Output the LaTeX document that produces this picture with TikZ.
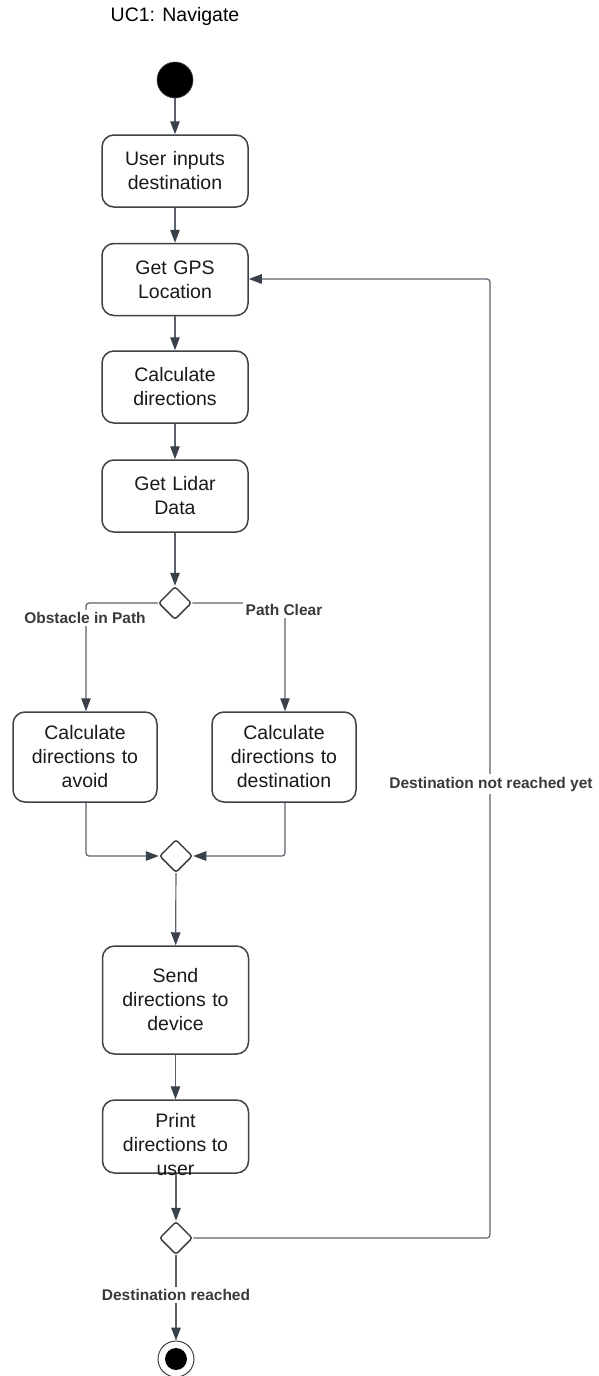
\documentclass[tikz,border=0pt]{standalone}
\usepackage{fontspec}
\setmainfont{Liberation Sans}
\usetikzlibrary{arrows.meta,shapes.geometric}
\definecolor{edgegray}{HTML}{5B616B}
\definecolor{tipgray}{HTML}{3B414B}
\definecolor{boxgray}{HTML}{3E4247}
\definecolor{labelgray}{HTML}{3A3A3A}
\tikzset{
  action/.style={draw=boxgray, line width=1.5pt, rounded corners=12pt, fill=white,
    minimum width=146pt, minimum height=72pt, text width=140pt, align=center,
    inner sep=0pt, font=\fontsize{19.5}{24}\selectfont, text=black!90},
  decision/.style={draw=boxgray, line width=1.5pt, diamond, aspect=1, fill=white,
    minimum width=33pt, minimum height=33pt, inner sep=0pt, rounded corners=2.5pt},
  flow/.style={draw=edgegray, line width=1.2pt, rounded corners=3pt,
    -{Triangle[length=13pt,width=9.5pt,color=tipgray]}},
  guard/.style={fill=white, inner sep=2.5pt, text=labelgray,
    font=\fontsize{15.5}{18}\selectfont\bfseries},
}
\begin{document}
\begin{tikzpicture}[x=1pt,y=-1pt]
  \useasboundingbox (0,0) rectangle (599,1376);

  \node[font=\fontsize{19.5}{24}\selectfont] (title) at (175,16) {UC1: Navigate};

  % initial and final states
  \node[circle, fill=black, draw=boxgray, line width=0.6pt, minimum size=36pt, inner sep=0pt] (start) at (175,80) {};
  \node[circle, fill=white, draw=boxgray, line width=1pt, minimum size=36pt, inner sep=0pt] (stop) at (176,1359) {};
  \node[circle, fill=black, minimum size=22pt, inner sep=0pt] (stopdot) at (stop.center) {};

  % actions
  \node[action] (input) at (175,171) {User inputs\\destination};
  \node[action] (gps) at (175,279.5) {Get GPS\\Location};
  \node[action] (calc) at (175,387) {Calculate\\directions};
  \node[action] (lidar) at (175,496) {Get Lidar\\Data};
  \node[action, minimum width=144pt, minimum height=90pt] (avoid) at (85,757) {Calculate\\directions to\\avoid};
  \node[action, minimum width=144pt, minimum height=90pt] (dest) at (284,757) {Calculate\\directions to\\destination};
  \node[action, minimum height=108pt] (send) at (175.5,1000) {Send\\directions to\\device};
  \node[action, minimum height=73pt] (print) at (175.5,1136.5) {};
  \node[font=\fontsize{19.5}{24}\selectfont, align=center, inner sep=0pt, text=black!90] (printtext) at (175.5,1145) {Print\\directions to\\user};

  % decisions
  \node[decision] (split) at (175,603) {};
  \node[decision] (merge) at (176,856) {};
  \node[decision] (check) at (176,1238) {};

  % turning points
  \coordinate (leftturn) at (86,603);
  \coordinate (rightturn) at (285,603);
  \coordinate (leftjoin) at (86,856);
  \coordinate (rightjoin) at (285,856);
  \coordinate (loopbottom) at (490,1238);
  \coordinate (looptop) at (490,279);

  % main flow
  \draw[flow] (start) -- (input);
  \draw[flow] (input) -- (gps);
  \draw[flow] (gps) -- (calc);
  \draw[flow] (calc) -- (lidar);
  \draw[flow] (lidar) -- (split);
  \draw[flow] (split.west) -- (leftturn) -- (avoid.north -| leftturn);
  \draw[flow] (split.east) -- (rightturn) -- (dest.north -| rightturn);
  \draw[flow] (avoid.south -| leftjoin) -- (leftjoin) -- (merge.west);
  \draw[flow] (dest.south -| rightjoin) -- (rightjoin) -- (merge.east);
  \draw[flow] (merge) -- (send);
  \draw[flow] (send) -- (print);
  \draw[flow] (print.south -| check) -- (check);
  \draw[flow] (check.east) -- (loopbottom) -- (looptop) -- (gps.east |- looptop);
  \draw[flow] (check) -- (stop);

  % guards
  \node[guard] (obstacle) at (85,618) {Obstacle in Path};
  \node[guard] (clear) at (284,610) {Path Clear};
  \node[guard] (notyet) at (491,784) {Destination not reached yet};
  \node[guard] (reached) at (176,1295) {Destination reached};
\end{tikzpicture}
\end{document}
